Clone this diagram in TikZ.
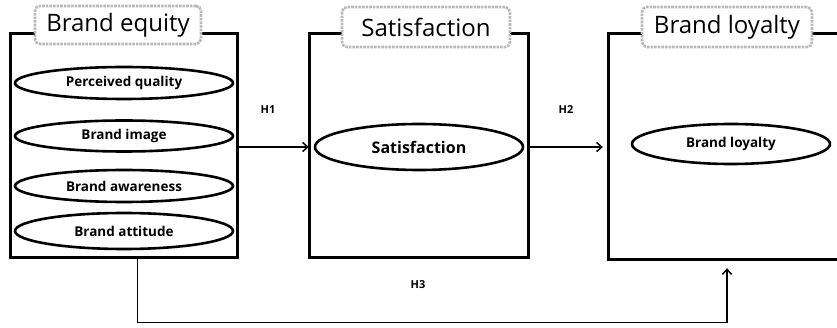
\documentclass[tikz,border=0pt]{standalone}
\usepackage{fontspec}
\setmainfont{Open Sans}
\usetikzlibrary{shapes.geometric,arrows.meta,calc}
\begin{document}
\begin{tikzpicture}[x=1pt,y=-1pt,
  titlebox/.style={draw=gray!55,densely dotted,line width=2.6pt,fill=white,rounded corners=5pt,
     font=\fontsize{24}{27}\selectfont,inner xsep=6pt,inner ysep=3pt},
  oval/.style={draw,ellipse,line width=2.6pt,inner sep=0,font=\bfseries\fontsize{13.5}{15}\selectfont},
  hlab/.style={font=\bfseries\fontsize{11}{13}\selectfont},
  link/.style={line width=1.4pt,-{Straight Barb[length=5pt,width=9pt,line width=1.5pt]}}]
\useasboundingbox (0,0) rectangle (837,328);
% frames
\draw[line width=3pt] (10,34) rectangle (237,258);
\node[minimum width=227pt,minimum height=224pt,inner sep=0] (box1) at (123.5,146) {};
\draw[line width=3pt] (309,34) rectangle (528,258);
\node[minimum width=219pt,minimum height=224pt,inner sep=0] (box2) at (418.5,146) {};
\draw[line width=3pt] (608,34) rectangle (860,260);
\node[minimum width=252pt,minimum height=226pt,inner sep=0] (box3) at (734,147) {};
% titles
\node[titlebox,minimum width=166pt,minimum height=38pt] (t1) at (118,25) {Brand equity};
\node[titlebox,minimum width=168pt,minimum height=40pt] (t2) at (426,27) {Satisfaction};
\node[titlebox,minimum width=170pt,minimum height=40pt] (t3) at (727,27) {Brand loyalty};
% ovals
\node[oval,minimum width=218pt,minimum height=32pt] (pq) at (124,83) {Perceived quality};
\node[oval,minimum width=218pt,minimum height=31pt] (bi) at (124,136) {Brand image};
\node[oval,minimum width=218pt,minimum height=32pt] (ba) at (124,186) {Brand awareness};
\node[oval,minimum width=218pt,minimum height=36pt] (bt) at (124,231) {Brand attitude};
\node[oval,minimum width=208pt,minimum height=46pt,font=\bfseries\fontsize{16}{18}\selectfont] (sat) at (419,147) {Satisfaction};
\node[oval,minimum width=198pt,minimum height=40pt] (bl) at (731,144) {Brand loyalty};
% labels
\node[hlab] (h1) at (268,110) {H1};
\node[hlab] (h2) at (566,110) {H2};
\node[hlab] (h3) at (418,285) {H3};
% links
\coordinate (a1) at (box1.east |- sat);
\coordinate (a2) at (box2.west |- sat);
\draw[link] (a1) -- (a2);
\coordinate (b1) at (box2.east |- sat);
\coordinate (b2) at ($(box3.west |- sat)+(-5,0)$);
\draw[link] (b1) -- (b2);
\coordinate (c0) at ($(box1.south)+(14,0)$);
\coordinate (c1) at ($(c0)+(0,64)$);
\coordinate (c3) at ($(box3.south)+(-7,8)$);
\draw[link] (c0) -- (c1) -| (c3);
\end{tikzpicture}
\end{document}
